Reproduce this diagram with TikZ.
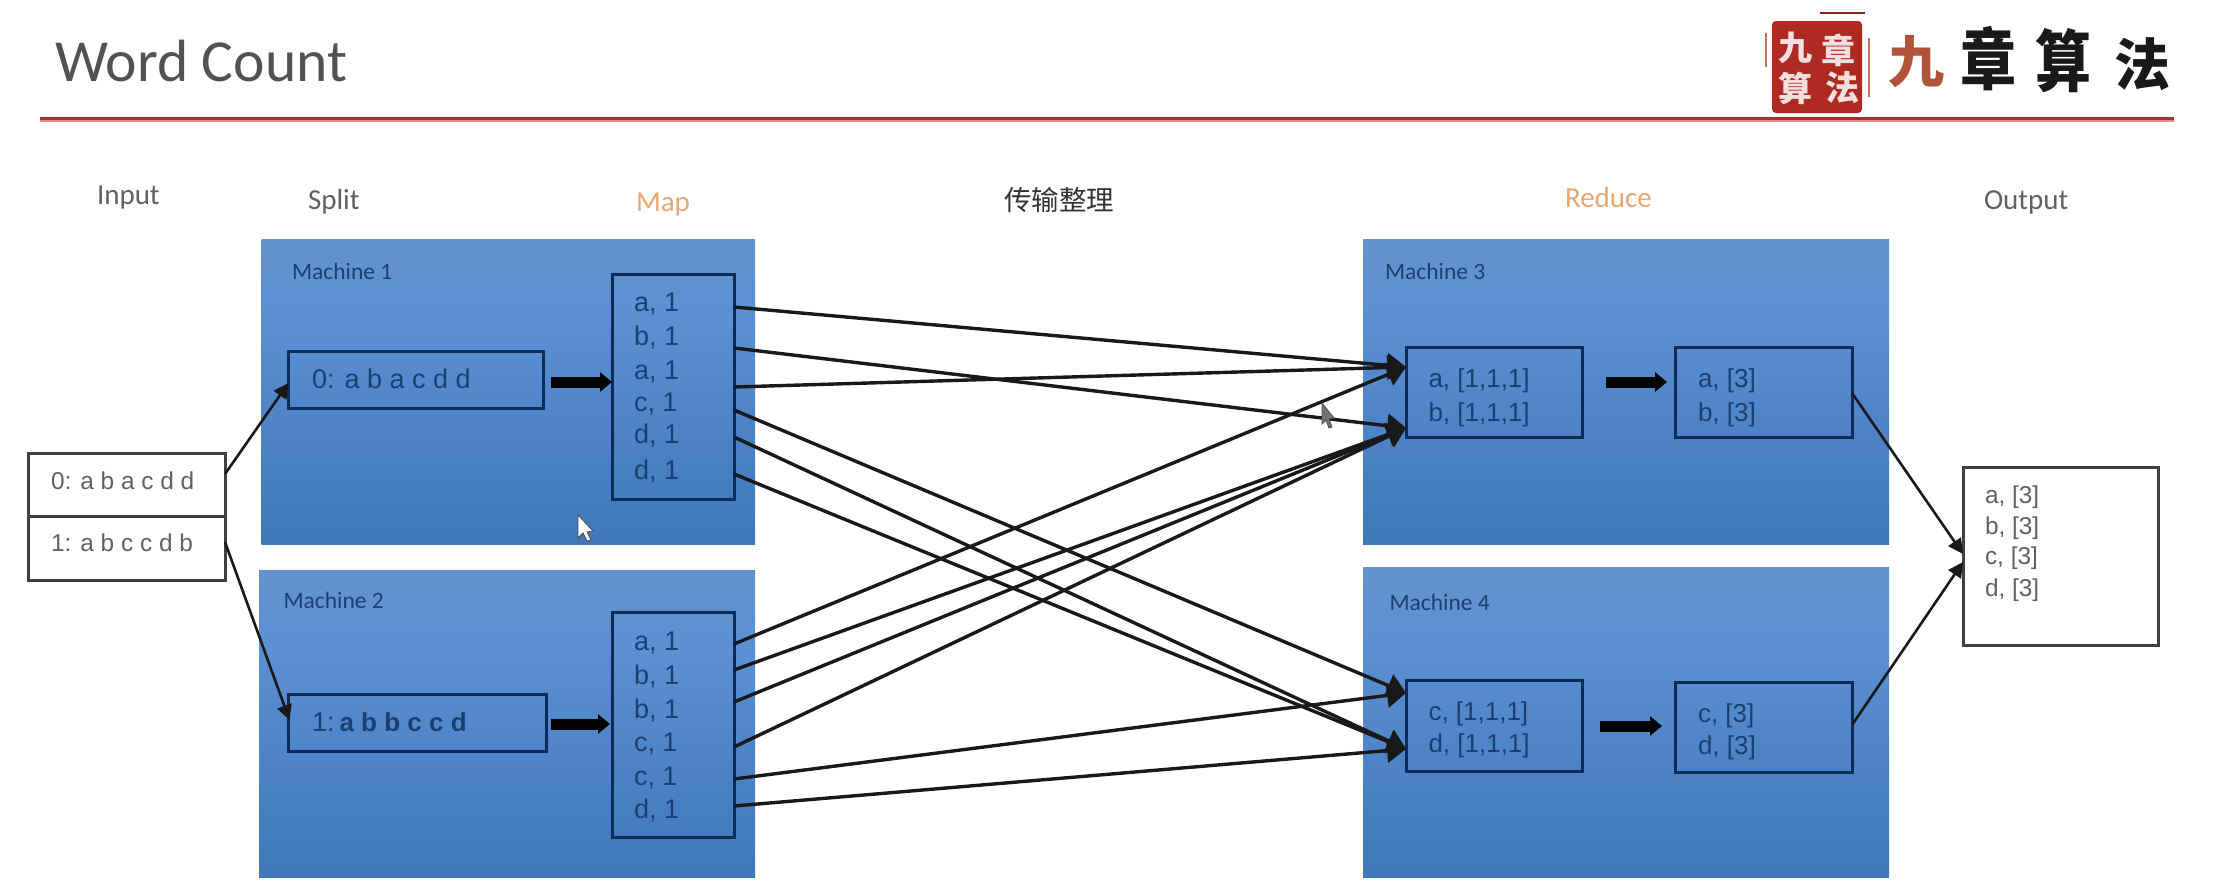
\documentclass[tikz,border=0pt]{standalone}
\usepackage{fontspec}
\usetikzlibrary{arrows.meta}
\setmainfont{Carlito}
\newfontfamily\lsans{Liberation Sans}
\newfontfamily\cjk{Noto Sans CJK SC}
\definecolor{mbot}{HTML}{3F77BA}
\definecolor{mmid}{HTML}{5B90D3}
\definecolor{mtop}{HTML}{6293CC}
\definecolor{navy}{HTML}{0D2C58}
\definecolor{intext}{HTML}{1D3F70}
\definecolor{orangelab}{HTML}{E8A672}
\definecolor{sealred}{HTML}{AE2A22}
\pgfdeclareverticalshading{machshade}{100bp}{color(0bp)=(mbot); color(25bp)=(mbot); color(62bp)=(mmid); color(75bp)=(mtop); color(100bp)=(mtop)}
\tikzset{
  machine/.style={shading=machshade,draw=none,inner sep=0,outer sep=0},
  bluebox/.style={draw=navy,line width=3pt,fill=none,inner sep=0,outer sep=0},
  whitebox/.style={draw=black!75,line width=3pt,fill=white,inner sep=0,outer sep=0},
  lab/.style={anchor=base west,inner sep=0,outer sep=0,text=black!62,font=\fontsize{29}{32}\selectfont},
  orangetxt/.style={lab,text=orangelab},
  mlabel/.style={anchor=base west,inner sep=0,outer sep=0,text=intext,font=\fontsize{23.5}{26}\selectfont},
  rowtxt/.style={anchor=base west,inner sep=0,outer sep=0,text=intext,font=\lsans\fontsize{27}{30}\selectfont},
  redtxt/.style={anchor=base west,inner sep=0,outer sep=0,text=intext,font=\lsans\fontsize{26}{30}\selectfont},
  graytxt/.style={anchor=base west,inner sep=0,outer sep=0,text=black!62,font=\lsans\fontsize{24.4}{30}\selectfont},
  link/.style={line width=3.4pt,draw=black!90,-{Triangle[length=19pt,width=24pt]}},
  thinlink/.style={line width=2.6pt,draw=black!90,-{Triangle[length=15pt,width=15pt]}},
  blockarrow/.style={line width=11pt,draw=black!95!navy,-{Triangle[length=12pt,width=19pt]}},
  logochar/.style={inner sep=0,outer sep=0,font=\cjk\bfseries\fontsize{56}{60}\selectfont},
  sealchar/.style={inner sep=0,outer sep=0,text=white!85!sealred,font=\cjk\bfseries\fontsize{34}{36}\selectfont},
}
\begin{document}
\begin{tikzpicture}[x=1pt,y=-1pt]
\useasboundingbox (0,0) rectangle (2222,894);
\fill[white] (0,0) rectangle (2222,894);
% header
\node[anchor=base west,inner sep=0,text=black!68,font=\fontsize{59.6}{64}\selectfont] (title) at (55,81) {Word Count};
\draw[line width=5pt,draw=red!40!white!90!black] (40,119) -- (2174,119);
\draw[line width=3pt,draw=red!55!black!80!white] (40,118.5) -- (2174,118.5);
% logo
\node[fill=sealred,inner sep=0,outer sep=0,minimum width=90,minimum height=92,rounded corners=4pt] (seal) at (1817,67) {};
\draw[line width=2.5pt,draw=sealred!80!black] (1820,13) -- (1865,13);
\draw[line width=2pt,draw=sealred!70!white] (1766,33) -- (1766,67);
\draw[line width=2pt,draw=sealred!70!white] (1869,38) -- (1869,97);
\node[sealchar] (s1) at (1795,48) {九};
\node[sealchar] (s2) at (1795,88) {算};
\node[sealchar] (s3) at (1838,50) {章};
\node[sealchar] (s4) at (1842,88) {法};
\node[logochar,text=orangelab!40!sealred!90!black] (l1) at (1916,62) {九};
\node[logochar,text=black!90,yscale=1.2] (l2) at (1988,59) {章};
\node[logochar,text=black!90,yscale=1.2] (l3) at (2063,61) {算};
\node[logochar,text=black!90] (l4) at (2142,64) {法};
% column labels
\node[lab] (tInput) at (97,204) {Input};
\node[lab] (tSplit) at (308,209) {Split};
\node[orangetxt] (tMap) at (636,211) {Map};
\node[inner sep=0,text=black!80,font=\cjk\fontsize{27.5}{30}\selectfont] (tTrans) at (1059,200) {传输整理};
\node[orangetxt] (tReduce) at (1565,207) {Reduce};
\node[lab] (tOutput) at (1984,209) {Output};
% machines
\node[machine,minimum width=493.5,minimum height=305] (m1) at (508.25,391.5) {};
\node[machine,minimum width=496,minimum height=307] (m2) at (507,723.5) {};
\node[machine,minimum width=526,minimum height=305] (m3) at (1626,391.5) {};
\node[machine,minimum width=526,minimum height=310] (m4) at (1626,722) {};
\node[mlabel] (tm1) at (292,279) {Machine 1};
\node[mlabel] (tm2) at (283.5,608) {Machine 2};
\node[mlabel] (tm3) at (1385,279) {Machine 3};
\node[mlabel] (tm4) at (1389.5,610) {Machine 4};
% input
\node[whitebox,minimum width=197,minimum height=63] (in0) at (126.5,484.5) {};
\node[whitebox,minimum width=197,minimum height=64] (in1) at (126.5,548) {};
\node[graytxt] (in0t) at (51,489) {0: a b a c d d};
\node[graytxt] (in1t) at (51,551) {1: a b c c d b};
% split
\node[bluebox,minimum width=255,minimum height=57] (sp1) at (416,379.5) {};
\node[bluebox,minimum width=257.5,minimum height=57] (sp2) at (417.25,722.5) {};
\node[rowtxt] (sp1t) at (312,388) {0: a b a c d d};
\node[rowtxt] (sp2t) at (312,731) {1:\hspace{5pt}{\fontsize{26}{30}\selectfont\bfseries a b b c c d}};
% map
\node[bluebox,minimum width=122,minimum height=225] (map1) at (673,386.5) {};
\node[bluebox,minimum width=122,minimum height=225] (map2) at (673,724.5) {};
\node[rowtxt] (a1) at (634,311) {a, 1};
\node[rowtxt] (a2) at (634,345) {b, 1};
\node[rowtxt] (a3) at (634,379) {a, 1};
\node[rowtxt] (a4) at (634,411) {c, 1};
\node[rowtxt] (a5) at (634,443) {d, 1};
\node[rowtxt] (a6) at (634,479) {d, 1};
\node[rowtxt] (b1) at (634,650) {a, 1};
\node[rowtxt] (b2) at (634,684) {b, 1};
\node[rowtxt] (b3) at (634,718) {b, 1};
\node[rowtxt] (b4) at (634,751) {c, 1};
\node[rowtxt] (b5) at (634,785) {c, 1};
\node[rowtxt] (b6) at (634,818) {d, 1};
% reduce
\node[bluebox,minimum width=176,minimum height=90] (red1) at (1494,392) {};
\node[bluebox,minimum width=177,minimum height=90] (res1) at (1763.5,392) {};
\node[bluebox,minimum width=176,minimum height=91] (red2) at (1494,725.5) {};
\node[bluebox,minimum width=177,minimum height=90] (res2) at (1763.5,727) {};
\node[redtxt] (r1a) at (1428.5,387) {a, [1,1,1]};
\node[redtxt] (r1b) at (1428.5,421) {b, [1,1,1]};
\node[redtxt] (r2a) at (1428.5,720) {c, [1,1,1]};
\node[redtxt] (r2b) at (1428.5,752) {d, [1,1,1]};
\node[redtxt] (q1a) at (1698,387) {a, [3]};
\node[redtxt] (q1b) at (1698,421) {b, [3]};
\node[redtxt] (q2a) at (1698,722) {c, [3]};
\node[redtxt] (q2b) at (1698,754) {d, [3]};
% output
\node[whitebox,minimum width=195,minimum height=178] (out) at (2060.5,556) {};
\node[graytxt] (o1) at (1985,503) {a, [3]};
\node[graytxt] (o2) at (1985,534) {b, [3]};
\node[graytxt] (o3) at (1985,564) {c, [3]};
\node[graytxt] (o4) at (1985,596) {d, [3]};
% input to split
\draw[thinlink] ([yshift=-21pt]in0.north east) -- ([yshift=-3.5pt]sp1.west);
\draw[thinlink] ([yshift=-26pt]in1.north east) -- ([xshift=1pt,yshift=2.5pt]sp2.west);
% block arrows
\draw[blockarrow] ([xshift=7.5pt,yshift=-2.5pt]sp1.east) -- ([yshift=-108pt]map1.north west);
\draw[blockarrow] ([xshift=5pt,yshift=-1.5pt]sp2.east) -- ([xshift=-2pt,yshift=-112pt]map2.north west);
\draw[blockarrow] ([xshift=24pt,yshift=10pt]red1.east) -- ([xshift=-8pt,yshift=10pt]res1.west);
\draw[blockarrow] ([xshift=18pt,yshift=-0.5pt]red2.east) -- ([xshift=-13pt,yshift=1pt]res2.west);
% shuffle
\draw[link] ([yshift=-33pt]map1.north east) -- ([yshift=-20pt]red1.north west);
\draw[link] ([yshift=-74pt]map1.north east) -- ([yshift=-81pt]red1.north west);
\draw[link] ([yshift=-113pt]map1.north east) -- ([yshift=-20pt]red1.north west);
\draw[link] ([yshift=-136pt]map1.north east) -- ([yshift=-13pt]red2.north west);
\draw[link] ([yshift=-163pt]map1.north east) -- ([yshift=-69pt]red2.north west);
\draw[link] ([yshift=-200pt]map1.north east) -- ([yshift=-69pt]red2.north west);
\draw[link] ([yshift=-32pt]map2.north east) -- ([yshift=-20pt]red1.north west);
\draw[link] ([yshift=-58pt]map2.north east) -- ([yshift=-81pt]red1.north west);
\draw[link] ([yshift=-90pt]map2.north east) -- ([yshift=-81pt]red1.north west);
\draw[link] ([yshift=-135pt]map2.north east) -- ([yshift=-81pt]red1.north west);
\draw[link] ([yshift=-167pt]map2.north east) -- ([yshift=-13pt]red2.north west);
\draw[link] ([yshift=-194pt]map2.north east) -- ([yshift=-69pt]red2.north west);
% reduce to output
\draw[thinlink] ([yshift=-46pt]res1.north east) -- ([yshift=-87pt]out.north west);
\draw[thinlink] ([yshift=-43pt]res2.north east) -- ([yshift=-95pt]out.north west);
% cursors
\filldraw[fill=white,draw=black!70,line width=0.8pt] (578,515) -- (578,538) -- (583,533) -- (587,541) -- (591,540) -- (587,532) -- (593,531) -- cycle;
\filldraw[fill=black!55,draw=black!70,line width=0.8pt] (1322,403) -- (1322,424) -- (1326,420) -- (1329,428) -- (1332,427) -- (1329,419) -- (1334,418) -- cycle;
\end{tikzpicture}
\end{document}
